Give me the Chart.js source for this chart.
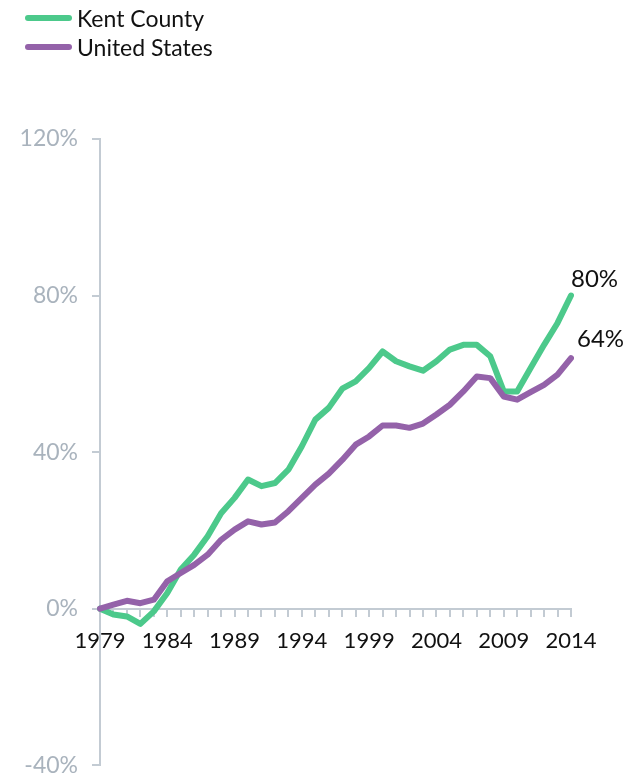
<!DOCTYPE html>
<html>
<head>
<meta charset="utf-8">
<script src="https://cdn.jsdelivr.net/npm/chart.js@4/dist/chart.umd.min.js"></script>
<style>
    body { margin: 0; background: #fff; font-family: Lato, "Open Sans", sans-serif; }
    #wrap { position: relative; width: 625px; height: 778px; overflow: hidden; }
    #legend { position: absolute; left: 25px; top: 3px; }
    .item { display: flex; align-items: center; height: 29px; font-size: 23px; color: #111; }
    .swatch { width: 47px; height: 6px; border-radius: 3px; margin-right: 5px; }
</style>
</head>
<body>
<div id="wrap">
    <canvas id="chart" width="625" height="793"></canvas>
    <div id="legend">
        <div class="item"><span class="swatch" style="background:#4cc98b"></span>Kent County</div>
        <div class="item"><span class="swatch" style="background:#9462a9"></span>United States</div>
    </div>
</div>
<script>
const years = [];
for (let y = 1979; y <= 2014; y++) years.push(String(y));

const kentCounty = [0, -1.5, -2, -3.9, -0.7, 4, 10, 13.8, 18.5, 24.4, 28.3, 33, 31.3, 32.1, 35.5, 41.5,
    48.3, 51.3, 56.2, 58.1, 61.5, 65.7, 63.2, 61.9, 60.8, 63.2, 66.2, 67.4, 67.4, 64.5, 55.5, 55.5,
    61.5, 67.4, 73, 80];
const unitedStates = [0, 1, 2, 1.4, 2.3, 7, 9.1, 11.2, 13.8, 17.6, 20.2, 22.3, 21.5, 22, 24.9, 28.3,
    31.7, 34.5, 38, 41.9, 44, 46.8, 46.8, 46.2, 47.3, 49.6, 52.1, 55.5, 59.3, 58.9, 54.2, 53.4,
    55.3, 57.2, 59.8, 64];
const yTicks = [-40, 0, 40, 80, 120];
const endLabels = ['80%', '64%'];

const axisGrey = '#c3cbd3';

// writes the last value beside the end of each line
const endLabelPlugin = {
    id: 'endLabels',
    afterDatasetsDraw(chart) {
        const ctx = chart.ctx;
        ctx.save();
        ctx.font = '24px Lato, "Open Sans", sans-serif';
        ctx.fillStyle = '#111';
        ctx.textBaseline = 'middle';
        ctx.textAlign = 'left';
        const offsets = [[0, -16], [6, -19]];
        chart.data.datasets.forEach((ds, i) => {
            const meta = chart.getDatasetMeta(i);
            const pt = meta.data[meta.data.length - 1];
            ctx.fillText(endLabels[i], pt.x + offsets[i][0], pt.y + offsets[i][1]);
        });
        ctx.restore();
    }
};

new Chart(document.getElementById('chart'), {
    type: 'line',
    data: {
        labels: years,
        datasets: [
            {
                label: 'Kent County',
                data: kentCounty,
                borderColor: '#4cc98b',
                borderWidth: 6,
                pointRadius: 0,
                borderJoinStyle: 'round',
                borderCapStyle: 'round',
                tension: 0,
                order: 1
            },
            {
                label: 'United States',
                data: unitedStates,
                borderColor: '#9462a9',
                borderWidth: 6,
                pointRadius: 0,
                borderJoinStyle: 'round',
                borderCapStyle: 'round',
                tension: 0,
                order: 0
            }
        ]
    },
    options: {
        responsive: false,
        animation: false,
        layout: { padding: { top: 139, right: 54, bottom: 0, left: 0 } },
        plugins: {
            legend: { display: false },
            tooltip: { enabled: false }
        },
        scales: {
            x: {
                position: { y: 0 },
                offset: false,
                grid: { drawOnChartArea: false, drawTicks: true, tickLength: 7, color: axisGrey, lineWidth: 2, offset: false },
                border: { color: axisGrey, width: 2 },
                ticks: {
                    autoSkip: false,
                    maxRotation: 0,
                    padding: 12,
                    color: '#111',
                    font: { family: 'Lato', size: 22 },
                    callback: (v, i) => (Number(years[i]) % 5 === 4 ? years[i] : '')
                }
            },
            y: {
                min: -40,
                max: 120,
                afterFit: (s) => { s.width = 100; },
                afterBuildTicks: (s) => { s.ticks = yTicks.map(v => ({ value: v })); },
                grid: { drawOnChartArea: false, drawTicks: true, tickLength: 8, color: axisGrey, lineWidth: 2 },
                border: { color: axisGrey, width: 2 },
                ticks: {
                    padding: 14,
                    color: '#a9b3bd',
                    font: { family: 'Lato', size: 23 },
                    callback: (v) => v + '%'
                }
            }
        }
    },
    plugins: [endLabelPlugin]
});
</script>
</body>
</html>
